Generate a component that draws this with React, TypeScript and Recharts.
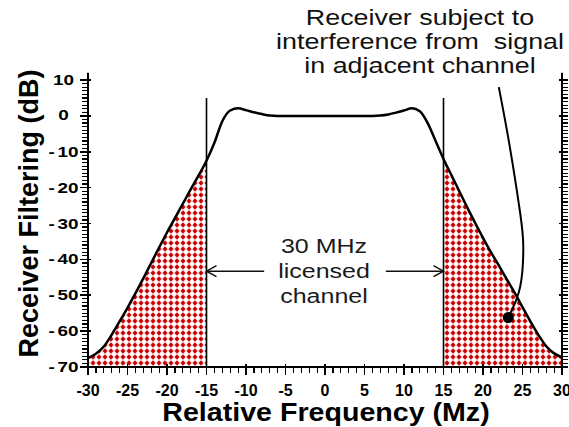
import React from 'react';
import { ComposedChart, Area, Line, Scatter, XAxis, YAxis, ReferenceLine, ReferenceDot } from 'recharts';

const FONT = '"Liberation Sans", Arial, sans-serif';

// relative frequency (MHz) and receiver filter response (dB)
const freq = [
  -30, -29, -28, -27, -26, -25, -24, -23, -22, -21, -20, -19, -18, -17, -16, -15,
  -14, -13, -12, -11, -10, -9, -8, -7, -6, -5, -4, -3, -2, -1, 0,
  1, 2, 3, 4, 5, 6, 7, 8, 9, 10, 11, 12, 13, 14,
  15, 16, 17, 18, 19, 20, 21, 22, 23, 24, 25, 26, 27, 28, 29, 30,
];
const filterDb = [
  -67.5, -66.3, -64.3, -61, -57.3, -53.5, -49.5, -45.3, -41, -36.7, -32.5, -28.5, -24.5, -20.5, -16.6, -12.5,
  -7.5, -1.5, 1.5, 2.1, 1.6, 1, 0.5, 0.1, 0, 0, 0, 0, 0, 0, 0,
  0, 0, 0, 0, 0, 0, 0.1, 0.4, 0.9, 1.5, 2.1, 1.3, -2, -7,
  -12, -16.5, -21, -25.5, -29.8, -34, -38, -41.7, -45.5, -49.3, -53.3, -57.3, -61, -64.2, -66.2, -67.3,
];

// labelled ticks, plus a minor tick at every unit
const xLabelTicks = [-30, -25, -20, -15, -10, -5, 0, 5, 10, 15, 20, 25, 30];
const yLabelTicks = [-70, -60, -50, -40, -30, -20, -10, 0, 10];
const yMinor = [
  -70, -69, -68, -67, -66, -65, -64, -63, -62, -61, -60, -59, -58, -57, -56, -55, -54, -53, -52, -51,
  -50, -49, -48, -47, -46, -45, -44, -43, -42, -41, -40, -39, -38, -37, -36, -35, -34, -33, -32, -31,
  -30, -29, -28, -27, -26, -25, -24, -23, -22, -21, -20, -19, -18, -17, -16, -15, -14, -13, -12, -11,
  -10, -9, -8, -7, -6, -5, -4, -3, -2, -1, 0, 1, 2, 3, 4, 5, 6, 7, 8, 9, 10,
];
const axisTopDb = 12; // the frame lines run a little past +10 dB

// licensed channel edges and arrow / label positions
const channelLow = -15;
const channelHigh = 15;
const channelLineTop = 5;
const arrowDb = -43.3;
const arrowStart = 7.7;
const channelText = ['30 MHz', 'licensed', 'channel'];

// leader line from the note down into the adjacent channel
const leaderF = [22.0, 23.4, 24.7, 25.1, 24.7, 23.2];
const leaderDb = [8.0, -8.7, -27.0, -36.5, -47.7, -56.2];
const noteLines = ['Receiver subject to', 'interference from  signal', 'in adjacent channel'];

const rows = freq.map((f, i) => ({
  f,
  db: filterDb[i],
  low: f <= channelLow ? filterDb[i] : null,
  high: f >= channelHigh ? filterDb[i] : null,
}));
const leaderRows = leaderF.map((f, i) => ({ f, db: leaderDb[i] }));
const leftTickRows = yMinor.map((v) => ({ f: -30, db: v }));
const rightTickRows = yMinor.map((v) => ({ f: 30, db: v }));
const bottomTickRows = freq.map((v) => ({ f: v, db: -70 }));

const stretch = (cx: number, s: number) => `translate(${cx} 0) scale(${s} 1) translate(${-cx} 0)`;

const LeftTick = (props: any) => {
  const { x, y, payload } = props;
  const v = payload.value;
  const cx = x - 24.5;
  return (
    <text x={cx} y={y} textAnchor="middle" dominantBaseline="central" transform={stretch(cx, 1.35)}
      fontFamily={FONT} fontWeight="bold" fontSize={14} fill="#000">
      {v < 0 ? <><tspan>-</tspan><tspan dx={2}>{Math.abs(v)}</tspan></> : v}
    </text>
  );
};

const BottomTick = (props: any) => {
  const { x, y, payload } = props;
  return (
    <text x={x} y={y + 23} textAnchor="middle" dominantBaseline="central"
      fontFamily={FONT} fontWeight="bold" fontSize={16} fill="#000">{payload.value}</text>
  );
};

// tick marks on the frame, drawn at the scaled positions of each unit
const leftTickShape = (p: any) => {
  const major = p.payload.db % 10 === 0;
  return <path d={major ? `M${p.cx - 8} ${p.cy}H${p.cx + 3}` : `M${p.cx - 6} ${p.cy}H${p.cx}`}
    stroke="#000" strokeWidth={major ? 1.6 : 1.2} shapeRendering="crispEdges" />;
};
const rightTickShape = (p: any) => {
  const major = p.payload.db % 10 === 0;
  return <path d={major ? `M${p.cx - 3} ${p.cy}H${p.cx + 6}` : `M${p.cx} ${p.cy}H${p.cx + 6}`}
    stroke="#000" strokeWidth={major ? 1.6 : 1.2} shapeRendering="crispEdges" />;
};
const bottomTickShape = (p: any) => {
  const major = p.payload.f % 5 === 0;
  return <path d={major ? `M${p.cx} ${p.cy - 3}V${p.cy + 8}` : `M${p.cx} ${p.cy}V${p.cy + 6}`}
    stroke="#000" strokeWidth={major ? 1.6 : 1.2} shapeRendering="crispEdges" />;
};

const arrowShape = (p: any) => {
  const { x1, y1, x2, y2 } = p;
  const dir = Math.sign(x2 - x1);
  return (
    <g>
      <line x1={x1} y1={y1} x2={x2} y2={y2} stroke="#111" strokeWidth={1.5} />
      <polyline points={`${x2 - dir * 10},${y2 - 5.5} ${x2},${y2} ${x2 - dir * 10},${y2 + 5.5}`}
        fill="none" stroke="#111" strokeWidth={1.5} />
    </g>
  );
};

const renderChannelText = (p: any) => {
  const vb = p.viewBox;
  const cx = vb.x + vb.width / 2 - 1;
  const cy = vb.y + vb.height / 2;
  return (
    <g transform={stretch(cx, 1.25)}>
      {channelText.map((t, i) => (
        <text key={t} x={cx} y={cy + (i - 1) * 25} textAnchor="middle" dominantBaseline="central"
          fontFamily={FONT} fontSize={20} fill="#1a1a1a">{t}</text>
      ))}
    </g>
  );
};

const renderYLabel = (p: any) => {
  const vb = p.viewBox;
  const cx = vb.x + 29;
  const cy = vb.y + vb.height / 2 - 10;
  return (
    <text x={cx} y={cy} transform={`rotate(-90, ${cx}, ${cy})`} textAnchor="middle" dominantBaseline="central"
      fontFamily={FONT} fontWeight="bold" fontSize={27} fill="#000">Receiver Filtering (dB)</text>
  );
};

const renderXLabel = (p: any) => {
  const vb = p.viewBox;
  const cx = vb.x + vb.width / 2 + 1;
  return (
    <text x={cx} y={vb.y + 54} textAnchor="middle" transform={stretch(cx, 1.1)}
      fontFamily={FONT} fontWeight="bold" fontSize={26} fill="#000">Relative Frequency (Mz)</text>
  );
};

export default function App() {
  return (
    <div style={{ position: 'absolute', left: 0, top: 0, width: 569, height: 427, background: '#fff' }}>
      <ComposedChart width={569} height={427} data={rows} margin={{ top: 80, right: 6, bottom: 0, left: 0 }}>
        <defs>
          <pattern id="redDots" width="6" height="6" patternUnits="userSpaceOnUse">
            <circle cx="3" cy="3" r="1.9" fill="#cc0000" />
            <path d="M3 0.6V5.4M0.6 3H5.4" stroke="#cc0000" strokeWidth="1.1" />
          </pattern>
        </defs>
        <XAxis dataKey="f" type="number" domain={[-30, 30]} ticks={xLabelTicks} interval={0} height={60}
          tickSize={0} tickMargin={0} tickLine={false} tick={<BottomTick />}
          axisLine={{ stroke: '#000', strokeWidth: 2 }} label={renderXLabel} />
        <YAxis type="number" domain={[-70, 10]} ticks={yLabelTicks} interval={0} width={88}
          tickSize={0} tickMargin={0} tickLine={false} tick={<LeftTick />}
          axisLine={{ stroke: '#000', strokeWidth: 2 }} label={renderYLabel} />
        <YAxis yAxisId="r" orientation="right" type="number" domain={[-70, 10]} width={1}
          tick={false} tickLine={false} axisLine={{ stroke: '#000', strokeWidth: 2 }} />
        <Area dataKey="low" type="monotone" baseValue="dataMin" fill="url(#redDots)" fillOpacity={1}
          stroke="none" isAnimationActive={false} />
        <Area dataKey="high" type="monotone" baseValue="dataMin" fill="url(#redDots)" fillOpacity={1}
          stroke="none" isAnimationActive={false} />
        <Line dataKey="db" type="monotone" stroke="#000" strokeWidth={2.5} dot={false} isAnimationActive={false} />
        <Scatter data={leftTickRows} dataKey="db" shape={leftTickShape} isAnimationActive={false} />
        <Scatter data={rightTickRows} dataKey="db" shape={rightTickShape} isAnimationActive={false} />
        <Scatter data={bottomTickRows} dataKey="db" shape={bottomTickShape} isAnimationActive={false} />
        <ReferenceLine segment={[{ x: -30, y: 10 }, { x: -30, y: axisTopDb }]} ifOverflow="visible"
          stroke="#000" strokeWidth={2} />
        <ReferenceLine segment={[{ x: 30, y: 10 }, { x: 30, y: axisTopDb }]} ifOverflow="visible"
          stroke="#000" strokeWidth={2} />
        <ReferenceLine segment={[{ x: channelLow, y: channelLineTop }, { x: channelLow, y: -70 }]}
          stroke="#000" strokeWidth={1.6} />
        <ReferenceLine segment={[{ x: channelHigh, y: channelLineTop }, { x: channelHigh, y: -70 }]}
          stroke="#000" strokeWidth={1.6} />
        <ReferenceLine segment={[{ x: -arrowStart, y: arrowDb }, { x: channelLow, y: arrowDb }]} shape={arrowShape} />
        <ReferenceLine segment={[{ x: arrowStart, y: arrowDb }, { x: channelHigh, y: arrowDb }]} shape={arrowShape} />
        <ReferenceDot x={0} y={arrowDb} r={2} fill="none" stroke="none" label={renderChannelText} />
        <Line data={leaderRows} dataKey="db" type="natural" stroke="#000" strokeWidth={2} dot={false}
          isAnimationActive={false} />
        <ReferenceDot x={leaderF[leaderF.length - 1]} y={leaderDb[leaderDb.length - 1]} r={5.5} fill="#000" stroke="none" />
      </ComposedChart>
      <div style={{
        position: 'absolute', left: 260, top: 6, width: 320, textAlign: 'center',
        fontFamily: FONT, fontSize: 22, lineHeight: '24px', color: '#111', whiteSpace: 'pre',
        transform: 'scaleX(1.22)', transformOrigin: 'center top',
      }}>
        {noteLines.map((t) => <div key={t}>{t}</div>)}
      </div>
    </div>
  );
}
